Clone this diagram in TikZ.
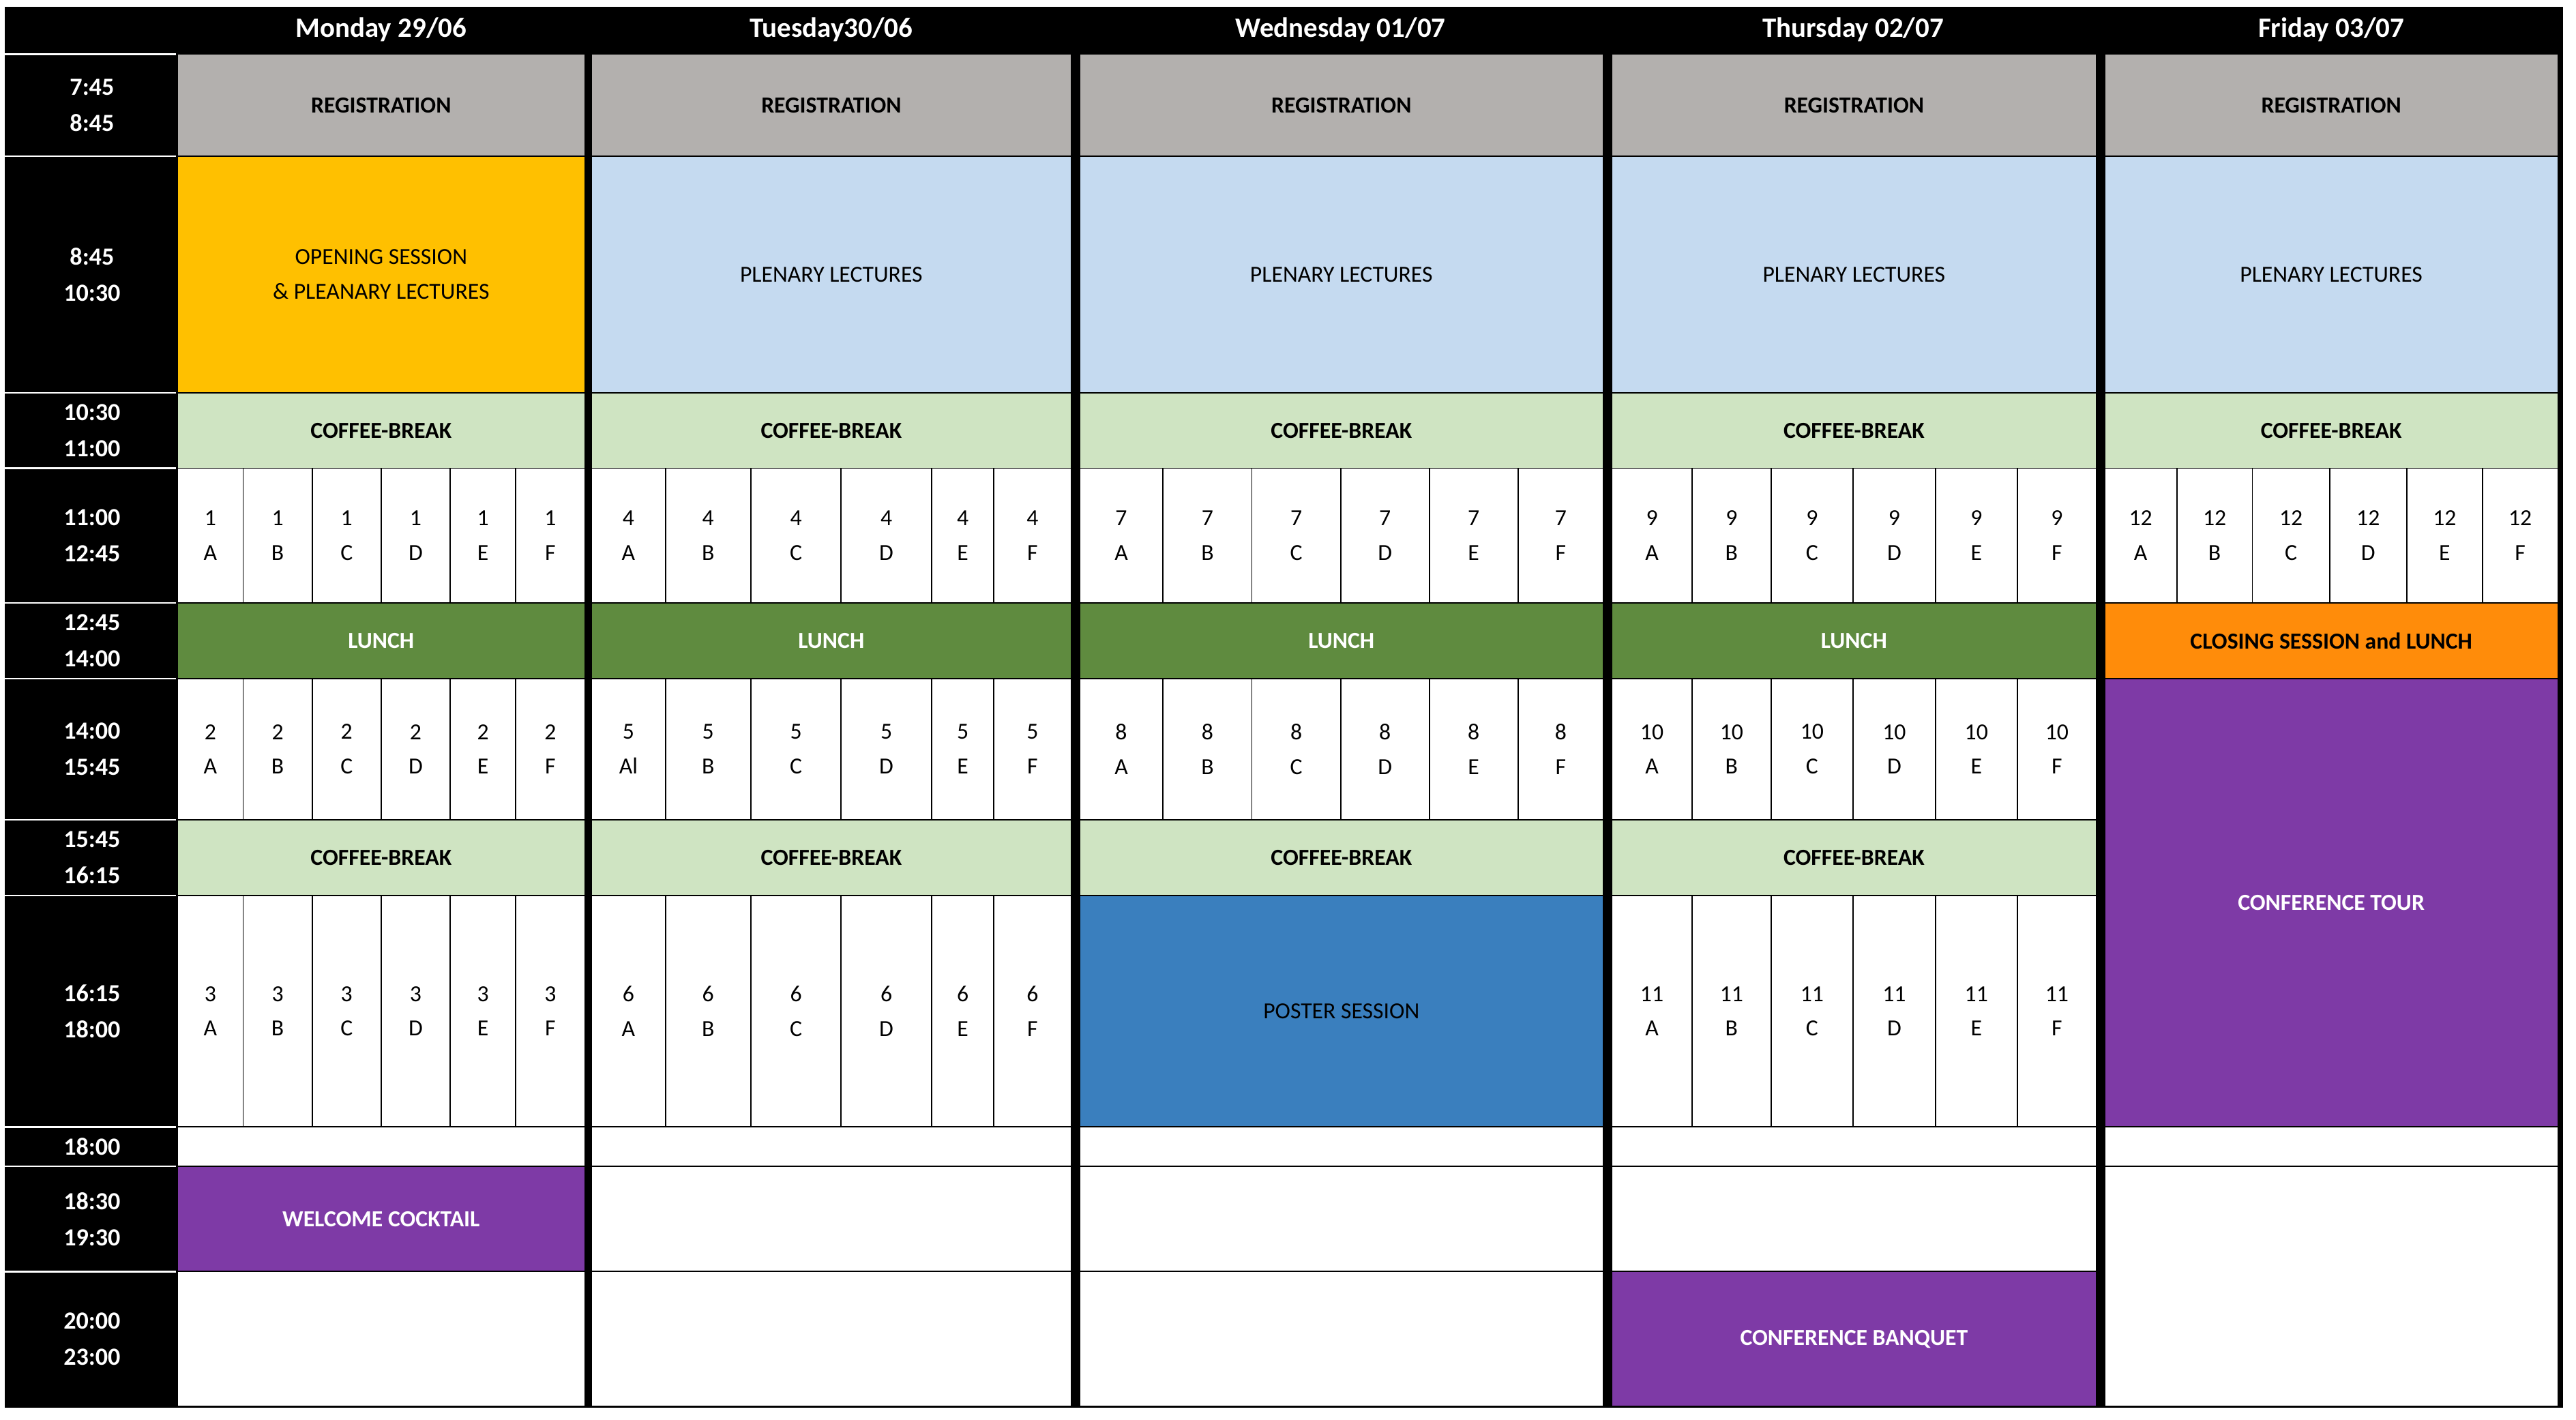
\documentclass[tikz,border=0pt]{standalone}
\usepackage{fontspec}
\setmainfont{Carlito}
\usetikzlibrary{calc}
\definecolor{reg}{HTML}{B3B0AE}
\definecolor{open}{HTML}{FFC000}
\definecolor{plen}{HTML}{C5DAF0}
\definecolor{cof}{HTML}{CFE4C2}
\definecolor{lun}{HTML}{5F8B3F}
\definecolor{clos}{HTML}{FF8C0A}
\definecolor{purp}{HTML}{7E3AA6}
\definecolor{post}{HTML}{3A7FBE}
\tikzset{
 txt/.style={align=center,font=\fontsize{14}{17}\selectfont,inner sep=0pt},
 btxt/.style={txt,font=\fontsize{14}{17}\selectfont\bfseries},
 wtxt/.style={btxt,text=white},
 hdr/.style={font=\fontsize{17}{20}\selectfont\bfseries,text=white,inner sep=0pt},
 tm/.style={align=center,font=\fontsize{15}{22}\selectfont\bfseries,text=white,inner sep=0pt},
 cellline/.style={draw=black,line width=0.8pt}
}
\newcommand\cellbox[8]{%
 \path[cellline,fill=#6] (#2,#3) rectangle (#4,#5);
 \node[#8] (#1) at ($(#2,#3)!0.5!(#4,#5)$) {#7};}
\newcommand\sessrow[4]{%
 \foreach \xa/\xb/\l in #4 {%
  \path[cellline,fill=white] (\xa,#1) rectangle (\xb,#2);
  \node[txt] (s#3\l) at ($(\xa,#1)!0.5!(\xb,#2)$) {#3\\[4pt]\l};}}
\def\monx{108/148/A,148/190/B,190/232/C,232/274/D,274/314/E,314/356/F}
\def\tuex{360/405/A,405/457/B,457/512/C,512/567/D,567/605/E,605/652/F}
\def\tuexb{360/405/Al,405/457/B,457/512/C,512/567/D,567/605/E,605/652/F}
\def\wedx{657/708/A,708/762/B,762/816/C,816/870/D,870/924/E,924/976/F}
\def\thux{981/1030/A,1030/1078/B,1078/1128/C,1128/1178/D,1178/1228/E,1228/1276/F}
\def\frix{1281/1325/A,1325/1371/B,1371/1418/C,1418/1465/D,1465/1511/E,1511/1557/F}
\begin{document}
\begin{tikzpicture}[x=1pt,y=-1pt]
\useasboundingbox[fill=white] (0,0) rectangle (1568,864);
\fill[black] (3,4) rectangle (1560,857);
% time column
\foreach \ya/\yb/\t [count=\i] in {33/95/{7:45\\8:45},95/239/{8:45\\10:30},239/285/{10:30\\11:00},285/367/{11:00\\12:45},367/413/{12:45\\14:00},413/499/{14:00\\15:45},499/545/{15:45\\16:15},545/686/{16:15\\18:00},686/710/{18:00},710/774/{18:30\\19:30},774/856/{20:00\\23:00}}{
 \draw[white,line width=1pt] (3,\ya) -- (107,\ya);
 \node[tm] (t\i) at (56,{(\ya+\yb)/2}) {\t};}
% headers
\node[hdr] (h1) at (232,18) {Monday 29/06};
\node[hdr] (h2) at (506,18) {Tuesday30/06};
\node[hdr] (h3) at (816,18) {Wednesday 01/07};
\node[hdr] (h4) at (1128,18) {Thursday 02/07};
\node[hdr] (h5) at (1419,18) {Friday 03/07};
% common rows
\foreach \d/\xa/\xb in {1/108/356,2/360/652,3/657/976,4/981/1276,5/1281/1557}{
 \cellbox{reg\d}{\xa}{33}{\xb}{95}{reg}{REGISTRATION}{btxt}
 \cellbox{cofa\d}{\xa}{239}{\xb}{285}{cof}{COFFEE-BREAK}{btxt}
 \cellbox{e\d}{\xa}{686}{\xb}{710}{white}{}{txt}
}
\foreach \d/\xa/\xb in {2/360/652,3/657/976,4/981/1276,5/1281/1557}{
 \cellbox{pl\d}{\xa}{95}{\xb}{239}{plen}{PLENARY LECTURES}{txt}}
\foreach \d/\xa/\xb in {1/108/356,2/360/652,3/657/976,4/981/1276}{
 \cellbox{lu\d}{\xa}{367}{\xb}{413}{lun}{LUNCH}{wtxt}
 \cellbox{cofb\d}{\xa}{499}{\xb}{545}{cof}{COFFEE-BREAK}{btxt}}
\cellbox{op}{108}{95}{356}{239}{open}{OPENING SESSION\\[4pt]\& PLEANARY LECTURES}{txt}
% sessions
\sessrow{285}{367}{1}{\monx}
\sessrow{413}{499}{2}{\monx}
\sessrow{545}{686}{3}{\monx}
\sessrow{285}{367}{4}{\tuex}
\sessrow{413}{499}{5}{\tuexb}
\sessrow{545}{686}{6}{\tuex}
\sessrow{285}{367}{7}{\wedx}
\sessrow{413}{499}{8}{\wedx}
\sessrow{285}{367}{9}{\thux}
\sessrow{413}{499}{10}{\thux}
\sessrow{545}{686}{11}{\thux}
\sessrow{285}{367}{12}{\frix}
\cellbox{poster}{657}{545}{976}{686}{post}{POSTER SESSION}{txt}
\cellbox{closing}{1281}{367}{1557}{413}{clos}{CLOSING SESSION and LUNCH}{btxt}
\cellbox{tour}{1281}{413}{1557}{686}{purp}{CONFERENCE TOUR}{wtxt}
% evening
\cellbox{cock}{108}{710}{356}{774}{purp}{WELCOME COCKTAIL}{wtxt}
\cellbox{m3}{108}{774}{356}{856}{white}{}{txt}
\cellbox{tu2}{360}{710}{652}{774}{white}{}{txt}
\cellbox{tu3}{360}{774}{652}{856}{white}{}{txt}
\cellbox{w2}{657}{710}{976}{774}{white}{}{txt}
\cellbox{w3}{657}{774}{976}{856}{white}{}{txt}
\cellbox{th2}{981}{710}{1276}{774}{white}{}{txt}
\cellbox{banq}{981}{774}{1276}{856}{purp}{CONFERENCE BANQUET}{wtxt}
\cellbox{f2}{1281}{710}{1557}{856}{white}{}{txt}
\end{tikzpicture}
\end{document}
